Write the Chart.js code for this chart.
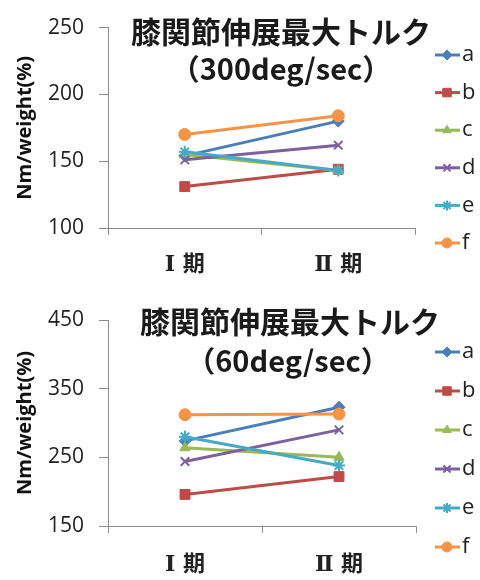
<!DOCTYPE html>
<html><head><meta charset="utf-8">
<script src="https://cdn.jsdelivr.net/npm/chart.js@4"></script>
<style>
html,body{margin:0;padding:0;background:#fff;}
.box{position:relative;width:480px;height:290px;}
canvas{display:block;}
</style></head>
<body>
<div class="box"><canvas id="c1" width="480" height="290"></canvas></div>
<div class="box"><canvas id="c2" width="480" height="290"></canvas></div>
<script>
// ---- data ----
const categories = ['Ⅰ 期', 'Ⅱ 期'];
const seriesNames = ['a', 'b', 'c', 'd', 'e', 'f'];
const chartTitle1 = ['膝関節伸展最大トルク', '（300deg/sec）'];
const chartTitle2 = ['膝関節伸展最大トルク', '（60deg/sec）'];
const yAxisTitle = 'Nm/weight(%)';

// 300deg/sec
const fast_a = [154, 180];
const fast_b = [131, 144];
const fast_c = [155, 143];
const fast_d = [151, 162];
const fast_e = [157, 143];
const fast_f = [170, 184];
const fastTicks = [100, 150, 200, 250];

// 60deg/sec
const slow_a = [274, 323];
const slow_b = [196, 222];
const slow_c = [264, 250];
const slow_d = [244, 290];
const slow_e = [280, 238];
const slow_f = [312, 313];
const slowTicks = [150, 250, 350, 450];

// ---- styles ----
const colors = ['#4A7EBB', '#BE4B48', '#98B954', '#7D60A0', '#46AAC5', '#F59446'];
const markers = ['rectRot', 'rect', 'triangle', 'crossRot', 'star', 'circle'];
const radii = [6, 7, 6, 6, 6, 6];
const markerBorder = [1, 1, 1, 2, 2, 1];

function makeDatasets(series) {
  return series.map((vals, i) => ({
    label: seriesNames[i],
    data: vals,
    borderColor: colors[i],
    backgroundColor: colors[i],
    borderWidth: 3,
    pointStyle: markers[i],
    pointRadius: radii[i],
    pointHoverRadius: radii[i],
    pointBackgroundColor: colors[i],
    pointBorderColor: colors[i],
    pointBorderWidth: markerBorder[i],
    order: series.length - i,
    tension: 0
  }));
}

const overlay = {
  id: 'overlay',
  afterDraw(chart, args, o) {
    const ctx = chart.ctx;
    ctx.save();
    ctx.fillStyle = '#1a1a1a';
    ctx.textAlign = 'center';
    ctx.textBaseline = 'middle';
    ctx.font = 'bold 30px "Noto Sans CJK JP"';
    ctx.fillText(o.title[0], o.t1x, o.t1y);
    ctx.font = 'bold 29px "Noto Sans CJK JP"';
    ctx.fillText(o.title[1], o.t2x, o.t2y);
    chart.data.datasets.forEach((ds, i) => {
      const y = o.legendY + i * o.legendStep;
      ctx.strokeStyle = ds.borderColor;
      ctx.lineWidth = 3;
      ctx.beginPath();
      ctx.moveTo(435, y);
      ctx.lineTo(460, y);
      ctx.stroke();
      ctx.fillStyle = ds.pointBackgroundColor;
      ctx.strokeStyle = ds.pointBorderColor;
      ctx.lineWidth = ds.pointBorderWidth;
      Chart.helpers.drawPoint(ctx, {pointStyle: ds.pointStyle, radius: ds.pointRadius - 1, rotation: 0, borderWidth: ds.pointBorderWidth}, 447, y);
      ctx.fillStyle = '#222';
      ctx.textAlign = 'left';
      ctx.font = '22px "Open Sans"';
      ctx.fillText(ds.label, 462, y);
    });
    ctx.restore();
  }
};

function makeChart(id, series, ticks, title, o) {
  return new Chart(document.getElementById(id), {
    type: 'line',
    data: {labels: categories, datasets: makeDatasets(series)},
    plugins: [overlay],
    options: {
      responsive: false,
      animation: false,
      layout: {padding: {top: o.padTop, right: o.padRight, bottom: 0, left: 0}},
      plugins: {
        legend: {display: false},
        tooltip: {enabled: false},
        overlay: Object.assign({title: title}, o)
      },
      scales: {
        x: {
          type: 'category',
          offset: true,
          grid: {display: true, drawOnChartArea: false, drawTicks: true, tickLength: 7, offset: true, color: '#8c8c8c'},
          border: {color: '#8c8c8c'},
          ticks: {font: {family: '"DejaVu Serif","Noto Sans CJK JP"', size: 22, weight: 'bold'}, color: '#222', padding: o.xPad, maxRotation: 0},
          afterFit(s) { s.height = o.xHeight; }
        },
        y: {
          min: ticks[0],
          max: ticks[ticks.length - 1],
          afterBuildTicks(s) { s.ticks = ticks.map(v => ({value: v})); },
          ticks: {font: {family: '"Open Sans"', size: 21}, color: '#222', padding: 15},
          grid: {drawOnChartArea: false, drawTicks: true, tickLength: 9, color: '#8c8c8c'},
          border: {color: '#8c8c8c'},
          title: {display: true, text: yAxisTitle, font: {family: '"Open Sans"', size: 20, weight: 'bold'}, color: '#111', padding: {top: 13}},
          afterFit(s) { s.width = 108; }
        }
      }
    }
  });
}

makeChart('c1', [fast_a, fast_b, fast_c, fast_d, fast_e, fast_f], fastTicks, chartTitle1,
  {padTop: 25, padRight: 65, xHeight: 62, xPad: 17, t1x: 281, t1y: 32, t2x: 281, t2y: 69, legendY: 55, legendStep: 37.6});
makeChart('c2', [slow_a, slow_b, slow_c, slow_d, slow_e, slow_f], slowTicks, chartTitle2,
  {padTop: 30, padRight: 64, xHeight: 54, xPad: 19, t1x: 290, t1y: 32, t2x: 288, t2y: 71, legendY: 62, legendStep: 39});
</script>
</body></html>
